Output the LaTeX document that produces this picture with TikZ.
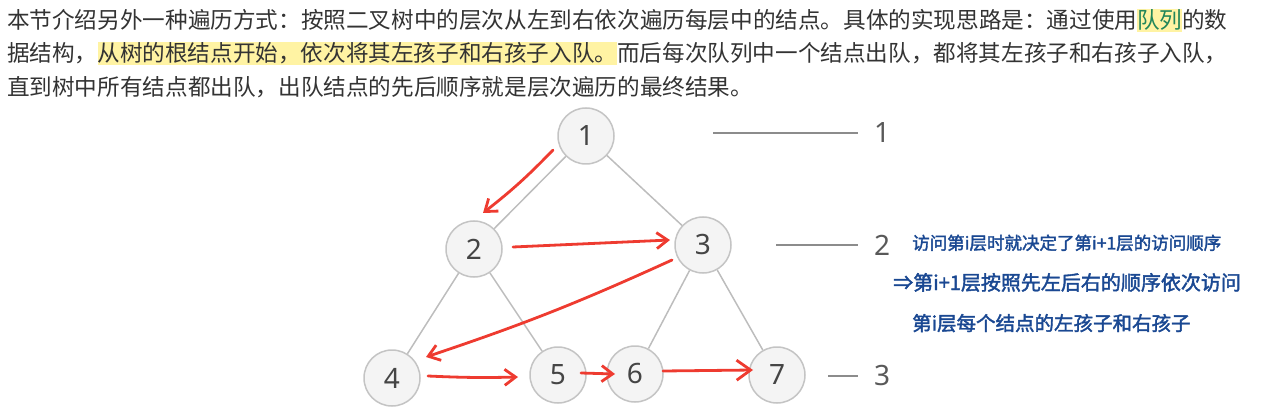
\documentclass[tikz,border=0pt]{standalone}
\usepackage{fontspec}
\usepackage{xcolor}
\usetikzlibrary{arrows.meta, positioning, calc}

\newfontfamily\cjkfont{Noto Sans CJK SC}
\newfontfamily\penfont[FakeBold=2]{Noto Sans CJK SC}
\newfontfamily\numfont{Noto Sans}

\definecolor{bodytext}{HTML}{333333}
\definecolor{hlyellow}{HTML}{FFF3A3}
\definecolor{termgreen}{HTML}{22865A}
\definecolor{nodefill}{HTML}{F4F4F4}
\definecolor{nodeline}{HTML}{C4C4C4}
\definecolor{edgegray}{HTML}{BDBDBD}
\definecolor{levelgray}{HTML}{8C8C8C}
\definecolor{penred}{HTML}{EE3B30}
\definecolor{penblue}{HTML}{1A4892}

\newcommand{\hlmark}[1]{{\setlength{\fboxsep}{0pt}\colorbox{hlyellow}{\rule[-0.13em]{0pt}{1.01em}#1}}}

\tikzset{
	treenode/.style={circle, draw=nodeline, fill=nodefill, line width=1.5pt, minimum size=56pt, inner sep=0pt,
		font=\numfont\fontsize{28}{28}\selectfont, text=black!73},
	treeedge/.style={draw=edgegray, line width=1.5pt},
	levelline/.style={draw=levelgray, line width=2pt, shorten >=16pt},
	levelno/.style={inner sep=0pt, font=\numfont\fontsize{28}{28}\selectfont, text=black!65},
	penarrow/.style={penred, line width=2.8pt, line cap=round, line join=round,
		-{Straight Barb[length=11pt, width=16pt]}},
	paraline/.style={anchor=base west, inner sep=0pt, font=\cjkfont\fontsize{22.6}{22.6}\selectfont, text=bodytext},
	handnote/.style={anchor=base west, inner sep=0pt, text=penblue}
}

\begin{document}
\begin{tikzpicture}[x=1pt, y=-1pt]
		\useasboundingbox (0,0) rectangle (1261,414);
		
		% Paragraph
		\node[paraline] (para1) at (7,28.6) {本节介绍另外一种遍历方式：按照二叉树中的层次从左到右依次遍历每层中的结点。具体的实现思路是：通过使用\hlmark{\textcolor{termgreen}{队列}}的数};
		\node[paraline] (para2) at (7,62) {据结构，\hlmark{从树的根结点开始，依次将其左孩子和右孩子入队。}而后每次队列中一个结点出队，都将其左孩子和右孩子入队，};
		\node[paraline] (para3) at (7,95.6) {直到树中所有结点都出队，出队结点的先后顺序就是层次遍历的最终结果。};
		
		% Tree nodes
		\node[treenode] (n1) at (586,136) {1};
		\node[treenode] (n2) at (474,249) {2};
		\node[treenode] (n3) at (703,245) {3};
		\node[treenode] (n4) at (392,378) {4};
		\node[treenode] (n5) at (558,375) {5};
		\node[treenode] (n6) at (635,374) {6};
		\node[treenode] (n7) at (777,375) {7};
		
		% Tree edges
		\draw[treeedge] (n1) -- (n2);
		\draw[treeedge] (n1) -- (n3);
		\draw[treeedge] (n2) -- (n4);
		\draw[treeedge] (n2) -- (n5);
		\draw[treeedge] (n3) -- (n6);
		\draw[treeedge] (n3) -- (n7);
		
		% Level marks
		\node[levelno] (lv1) at (882,133) {1};
		\node[levelno] (lv2) at (882,245) {2};
		\node[levelno] (lv3) at (882,376) {3};
		\coordinate (lv1s) at (713,133);
		\coordinate (lv2s) at (776,245);
		\coordinate (lv3s) at (828,376);
		\draw[levelline] (lv1s) -- (lv1);
		\draw[levelline] (lv2s) -- (lv2);
		\draw[levelline] (lv3s) -- (lv3);
		
		% Visiting order (red pen)
		\draw[penarrow] ([shift={(-33,14)}]n1.center) to[bend left=4] ([shift={(9,-36)}]n2.center);
		\draw[penarrow] ([shift={(39,-2)}]n2.center) -- ([shift={(-33,-5)}]n3.center);
		\draw[penarrow] ([shift={(-31,15)}]n3.center) to[bend left=3] ([shift={(34,-21)}]n4.center);
		\draw[penarrow] ([shift={(36,-2)}]n4.center) to[bend right=2] ([shift={(-40,2)}]n5.center);
		\draw[penarrow] ([shift={(23,-2)}]n5.center) -- ([shift={(-20,0)}]n6.center);
		\draw[penarrow, -{Straight Barb[length=14pt, width=20pt]}] ([shift={(28,-3)}]n6.center) -- ([shift={(-24,-5)}]n7.center);
		
		% Notes (blue pen)
		\node[handnote, font=\penfont\fontsize{17.5}{17.5}\selectfont] (noteA) at (912,249.5) {访问第i层时就决定了第i+1层的访问顺序};
		\node[handnote, font=\penfont\fontsize{20}{20}\selectfont] (noteB) at (893,290) {⇒第i+1层按照先左后右的顺序依次访问};
		\node[handnote, font=\penfont\fontsize{19.5}{19.5}\selectfont] (noteC) at (912,330.5) {第i层每个结点的左孩子和右孩子};
\end{tikzpicture}
\end{document}
